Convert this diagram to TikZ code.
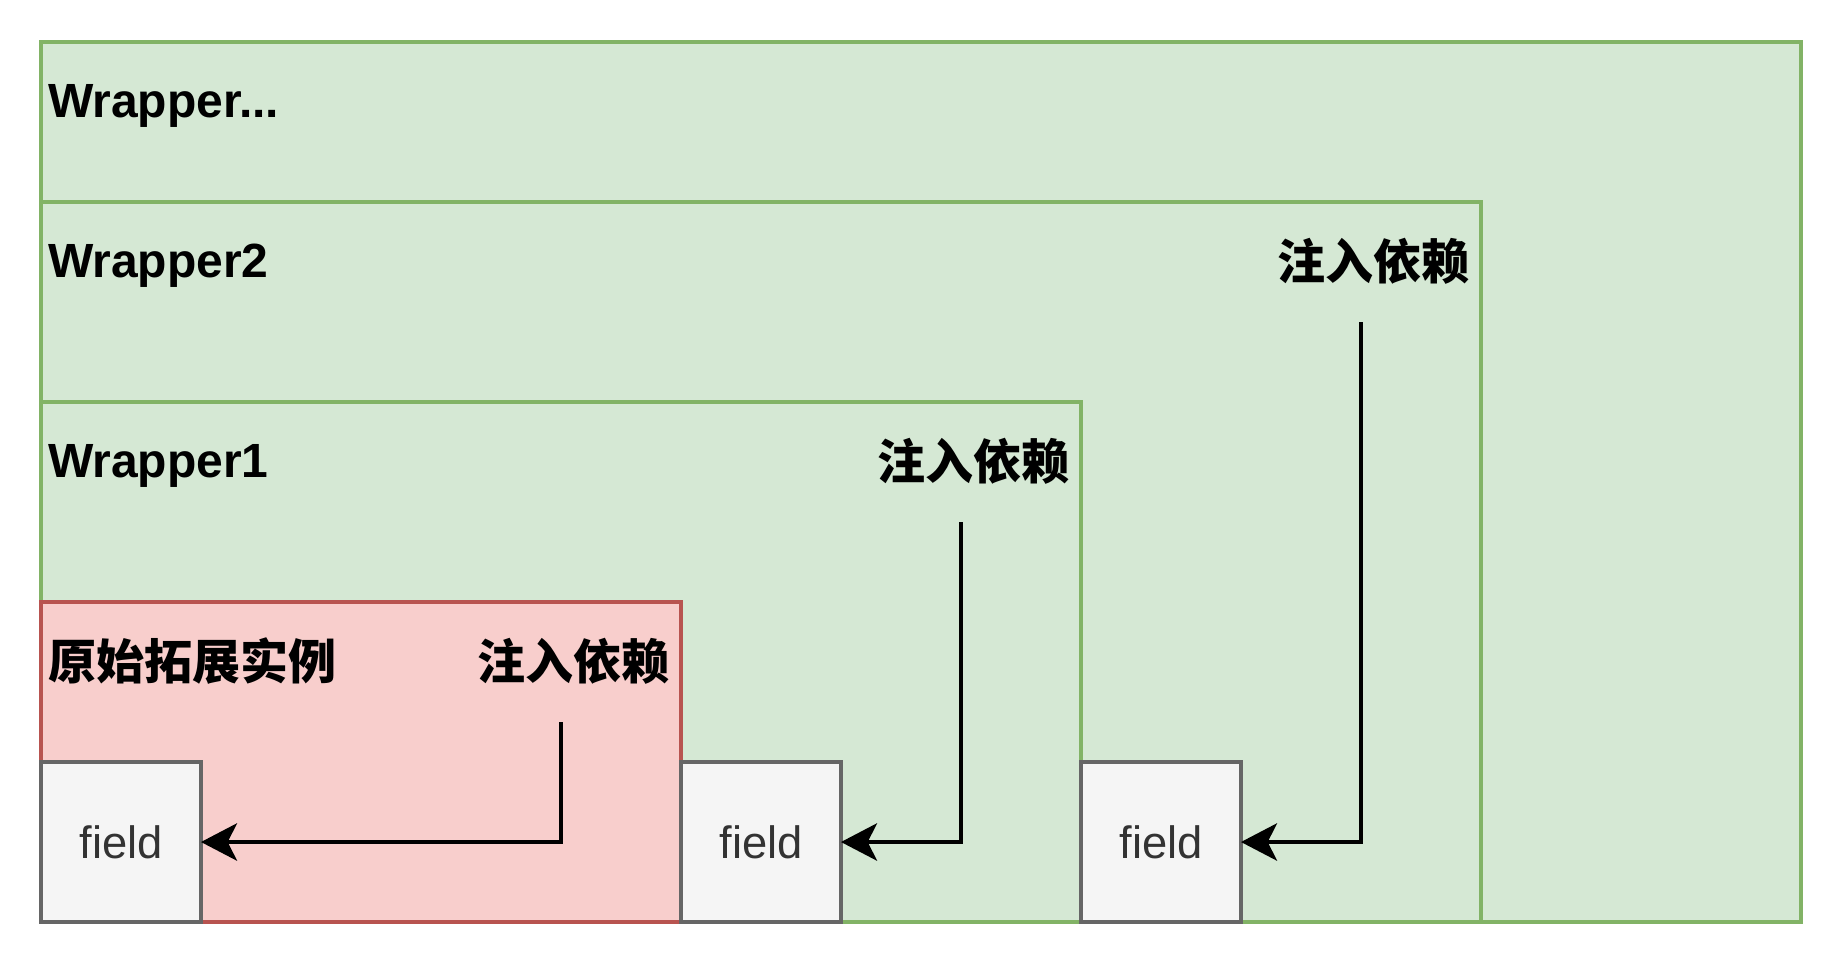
\documentclass[tikz,border=0pt]{standalone}
\usepackage{fontspec}
\setmainfont{Liberation Sans}
\newfontfamily\cjk{Noto Sans CJK SC}
\usepackage{xcolor}
\usetikzlibrary{arrows.meta,positioning}
\definecolor{wrapfill}{HTML}{D5E8D4}
\definecolor{wrapline}{HTML}{82B366}
\definecolor{origfill}{HTML}{F8CECC}
\definecolor{origline}{HTML}{B85450}
\definecolor{fieldfill}{HTML}{F5F5F5}
\definecolor{fieldline}{HTML}{666666}
\definecolor{fieldtext}{HTML}{333333}

\begin{document}
\begin{tikzpicture}[x=0.75pt, y=-0.75pt,
  every node/.style={outer sep=0pt},
  wrap/.style={draw=wrapline, fill=wrapfill, line width=2.5pt, inner sep=0pt, anchor=south west},
  orig/.style={draw=origline, fill=origfill, line width=2.5pt, inner sep=0pt, anchor=south west},
  fld/.style={draw=fieldline, fill=fieldfill, line width=3pt, inner sep=0pt,
    minimum width=120pt, minimum height=120pt, text=fieldtext,
    font=\fontsize{34}{40}\selectfont},
  ttl/.style={font=\fontsize{36}{42}\selectfont\bfseries, anchor=base west, inner sep=0pt},
  inj/.style={font=\fontsize{36}{42}\selectfont\bfseries\cjk, anchor=base east, inner sep=0pt},
  e/.style={-{Stealth[length=27pt, width=28pt, inset=7pt]}, line width=2.8pt}
]
  \useasboundingbox (0,0) rectangle (1844,964);
  \coordinate (base) at (41,922);
  \node[wrap, minimum width=1320pt, minimum height=660pt] (outer) at (base) {};
  \node[wrap, minimum width=1080pt, minimum height=540pt] (w2) at (base) {};
  \node[wrap, minimum width=780pt, minimum height=390pt] (w1) at (base) {};
  \node[orig, minimum width=480pt, minimum height=240pt] (orig) at (base) {};
  \node[fld, anchor=south west] (f0) at (orig.south west) {field};
  \node[fld, anchor=south west] (f1) at (orig.south east) {field};
  \node[fld, anchor=south west] (f2) at (w1.south east) {field};
  \node[ttl] (touter) at ([shift={(7,75)}]outer.north west) {Wrapper...};
  \node[ttl] (tw2) at ([shift={(7,75)}]w2.north west) {Wrapper2};
  \node[ttl] (tw1) at ([shift={(7,75)}]w1.north west) {Wrapper1};
  \node[ttl, font=\fontsize{36}{42}\selectfont\bfseries\cjk] (torig) at ([shift={(7,77)}]orig.north west) {原始拓展实例};
  \node[inj] (i2) at ([shift={(-12,77)}]w2.north east) {注入依赖};
  \node[inj] (i1) at ([shift={(-12,77)}]w1.north east) {注入依赖};
  \node[inj] (i0) at ([shift={(-12,77)}]orig.north east) {注入依赖};
  \coordinate (s2) at ([shift={(-120,120)}]w2.north east);
  \coordinate (s1) at ([shift={(-120,120)}]w1.north east);
  \coordinate (s0) at ([shift={(-120,120)}]orig.north east);
  \draw[e] (s2) |- (f2.east);
  \draw[e] (s1) |- (f1.east);
  \draw[e] (s0) |- (f0.east);
\end{tikzpicture}
\end{document}
